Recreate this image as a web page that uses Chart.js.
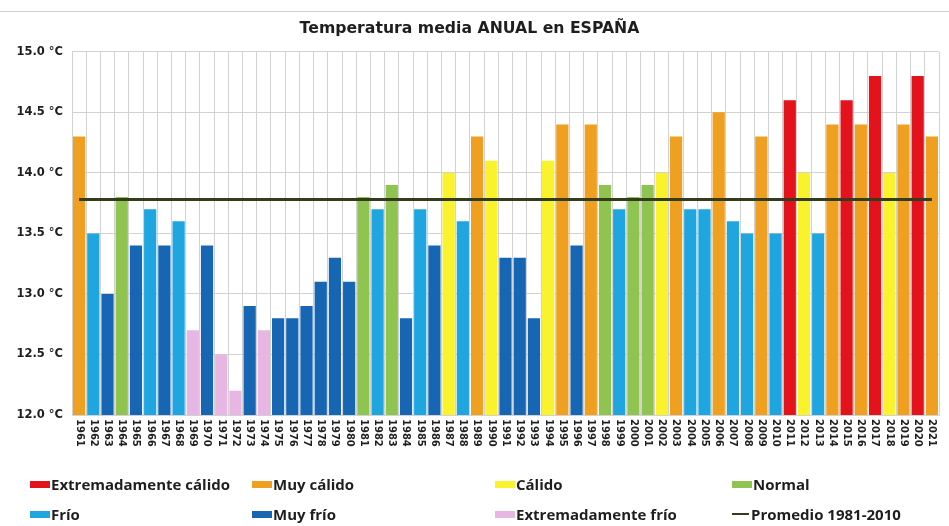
<!DOCTYPE html>
<html lang="es">
<head>
<meta charset="utf-8">
<title>Temperatura media ANUAL en ESPAÑA</title>
<script src="https://cdn.jsdelivr.net/npm/chart.js@4/dist/chart.umd.min.js"></script>
<style>
  html, body { margin: 0; padding: 0; background: #fff; }
  #wrap { position: relative; width: 949px; height: 526px; overflow: hidden; background: #fff; }
  #topRule { position: absolute; left: 0; top: 11px; width: 949px; height: 1px; background: #cfcfcf; }
  #chart { position: absolute; left: 0; top: 0; }
  #legend { position: absolute; left: 0; top: 0; width: 949px; height: 526px; pointer-events: none;
            font: 700 15px "Open Sans", sans-serif; color: #1e1e1e; }
  .item { position: absolute; display: flex; align-items: center; white-space: nowrap; transform: translateY(-50%); }
  .sw { width: 20px; height: 7px; margin-right: 1px; }
  .ln { width: 17px; height: 2px; margin-right: 2px; }
</style>
</head>
<body>
<div id="wrap">
  <div id="topRule"></div>
  <canvas id="chart" width="949" height="526"></canvas>
  <div id="legend"></div>
</div>
<script>
// Annual mean temperature in Spain, 1961-2021 (°C)
const years = [
  '1961','1962','1963','1964','1965','1966','1967','1968','1969','1970',
  '1971','1972','1973','1974','1975','1976','1977','1978','1979','1980',
  '1981','1982','1983','1984','1985','1986','1987','1988','1989','1990',
  '1991','1992','1993','1994','1995','1996','1997','1998','1999','2000',
  '2001','2002','2003','2004','2005','2006','2007','2008','2009','2010',
  '2011','2012','2013','2014','2015','2016','2017','2018','2019','2020','2021'
];

const temps = [
  14.3, 13.5, 13.0, 13.8, 13.4, 13.7, 13.4, 13.6, 12.7, 13.4,
  12.5, 12.2, 12.9, 12.7, 12.8, 12.8, 12.9, 13.1, 13.3, 13.1,
  13.8, 13.7, 13.9, 12.8, 13.7, 13.4, 14.0, 13.6, 14.3, 14.1,
  13.3, 13.3, 12.8, 14.1, 14.4, 13.4, 14.4, 13.9, 13.7, 13.8,
  13.9, 14.0, 14.3, 13.7, 13.7, 14.5, 13.6, 13.5, 14.3, 13.5,
  14.6, 14.0, 13.5, 14.4, 14.6, 14.4, 14.8, 14.0, 14.4, 14.8, 14.3
];

// Character of each year: EC extremadamente cálido, MC muy cálido, C cálido,
// N normal, F frío, MF muy frío, EF extremadamente frío
const yearClass = [
  'MC','F','MF','N','MF','F','MF','F','EF','MF',
  'EF','EF','MF','EF','MF','MF','MF','MF','MF','MF',
  'N','F','N','MF','F','MF','C','F','MC','C',
  'MF','MF','MF','C','MC','MF','MC','N','F','N',
  'N','C','MC','F','F','MC','F','F','MC','F',
  'EC','C','F','MC','EC','MC','EC','C','MC','EC','MC'
];

const classCodes  = ['EC', 'MC', 'C', 'N', 'F', 'MF', 'EF'];
const classNames  = ['Extremadamente cálido', 'Muy cálido', 'Cálido', 'Normal',
                     'Frío', 'Muy frío', 'Extremadamente frío'];
const classColors = ['#e3121b', '#f0a020', '#f9f22c', '#8fc451',
                     '#1fa6e0', '#1666b3', '#e8b6e2'];

// Reference mean 1981-2010
const promedioLabel = 'Promedio 1981-2010';
const promedio = 13.78;
const promedioColor = '#333d1c';

const yTicks = [12.0, 12.5, 13.0, 13.5, 14.0, 14.5, 15.0];

const FONT = '"DejaVu Sans", Verdana, sans-serif';

// one bar dataset per class, bars only where the year belongs to that class
const barSets = classCodes.map((code, k) => ({
  type: 'bar',
  label: classNames[k],
  data: temps.map((t, i) => (yearClass[i] === code ? t : null)),
  backgroundColor: classColors[k],
  borderWidth: 0,
  grouped: false,
  categoryPercentage: 1.0,
  barPercentage: 0.86,
  order: 2
}));

const lineSet = {
  type: 'line',
  label: promedioLabel,
  data: years.map(() => promedio),
  borderColor: promedioColor,
  borderWidth: 3,
  pointRadius: 0,
  fill: false,
  order: 0
};

// year labels rotated clockwise, reading top to bottom
const verticalYearLabels = {
  id: 'verticalYearLabels',
  afterDraw(chart) {
    const xs = chart.scales.x;
    const ctx = chart.ctx;
    ctx.save();
    ctx.font = 'bold 10px ' + FONT;
    ctx.fillStyle = '#1e1e1e';
    ctx.textAlign = 'left';
    ctx.textBaseline = 'middle';
    xs.ticks.forEach((t, i) => {
      const x = xs.getPixelForTick(i);
      ctx.save();
      ctx.translate(x, xs.top + 4);
      ctx.rotate(Math.PI / 2);
      ctx.fillText(xs.getLabelForValue(t.value), 0, 0);
      ctx.restore();
    });
    ctx.restore();
  }
};

new Chart(document.getElementById('chart'), {
  data: { labels: years, datasets: [...barSets, lineSet] },
  options: {
    responsive: false,
    animation: false,
    devicePixelRatio: 1,
    layout: { padding: { left: 0, right: 10, top: 0, bottom: 0 } },
    plugins: {
      legend: { display: false },
      tooltip: { enabled: false },
      title: {
        display: true,
        text: 'Temperatura media ANUAL en ESPAÑA',
        color: '#1e1e1e',
        font: { family: FONT, size: 15.7, weight: 'bold' },
        padding: { top: 20, bottom: 13 }
      }
    },
    scales: {
      x: {
        type: 'category',
        offset: true,
        grid: { display: true, offset: true, color: '#d2d2d2', lineWidth: 1, drawTicks: false },
        border: { display: true, color: '#d2d2d2' },
        ticks: { display: false },
        afterFit(scale) { scale.height = 111; }
      },
      y: {
        min: yTicks[0],
        max: yTicks[yTicks.length - 1],
        afterBuildTicks(scale) { scale.ticks = yTicks.map(v => ({ value: v })); },
        grid: { color: '#d2d2d2', lineWidth: 1, drawTicks: false },
        border: { display: true, color: '#d2d2d2' },
        ticks: {
          padding: 9,
          color: '#1e1e1e',
          font: { family: FONT, size: 11.5, weight: 'bold' },
          callback: v => Number(v).toFixed(1) + ' °C'
        },
        afterFit(scale) { scale.width = 72; }
      }
    }
  },
  plugins: [verticalYearLabels]
});

// legend laid out as a 4-column grid under the axis
const legend = document.getElementById('legend');
const legendCols = [30, 252, 495, 732];
const legendRows = [484, 514];
const legendEntries = classNames.map((name, k) => ({ name, color: classColors[k], line: false }));
legendEntries.push({ name: promedioLabel, color: promedioColor, line: true });
legendEntries.forEach((e, i) => {
  const item = document.createElement('div');
  item.className = 'item';
  item.style.left = legendCols[i % 4] + 'px';
  item.style.top = legendRows[Math.floor(i / 4)] + 'px';
  const mark = document.createElement('span');
  mark.className = e.line ? 'ln' : 'sw';
  mark.style.background = e.color;
  const txt = document.createElement('span');
  txt.textContent = e.name;
  item.appendChild(mark);
  item.appendChild(txt);
  legend.appendChild(item);
});
</script>
</body>
</html>
